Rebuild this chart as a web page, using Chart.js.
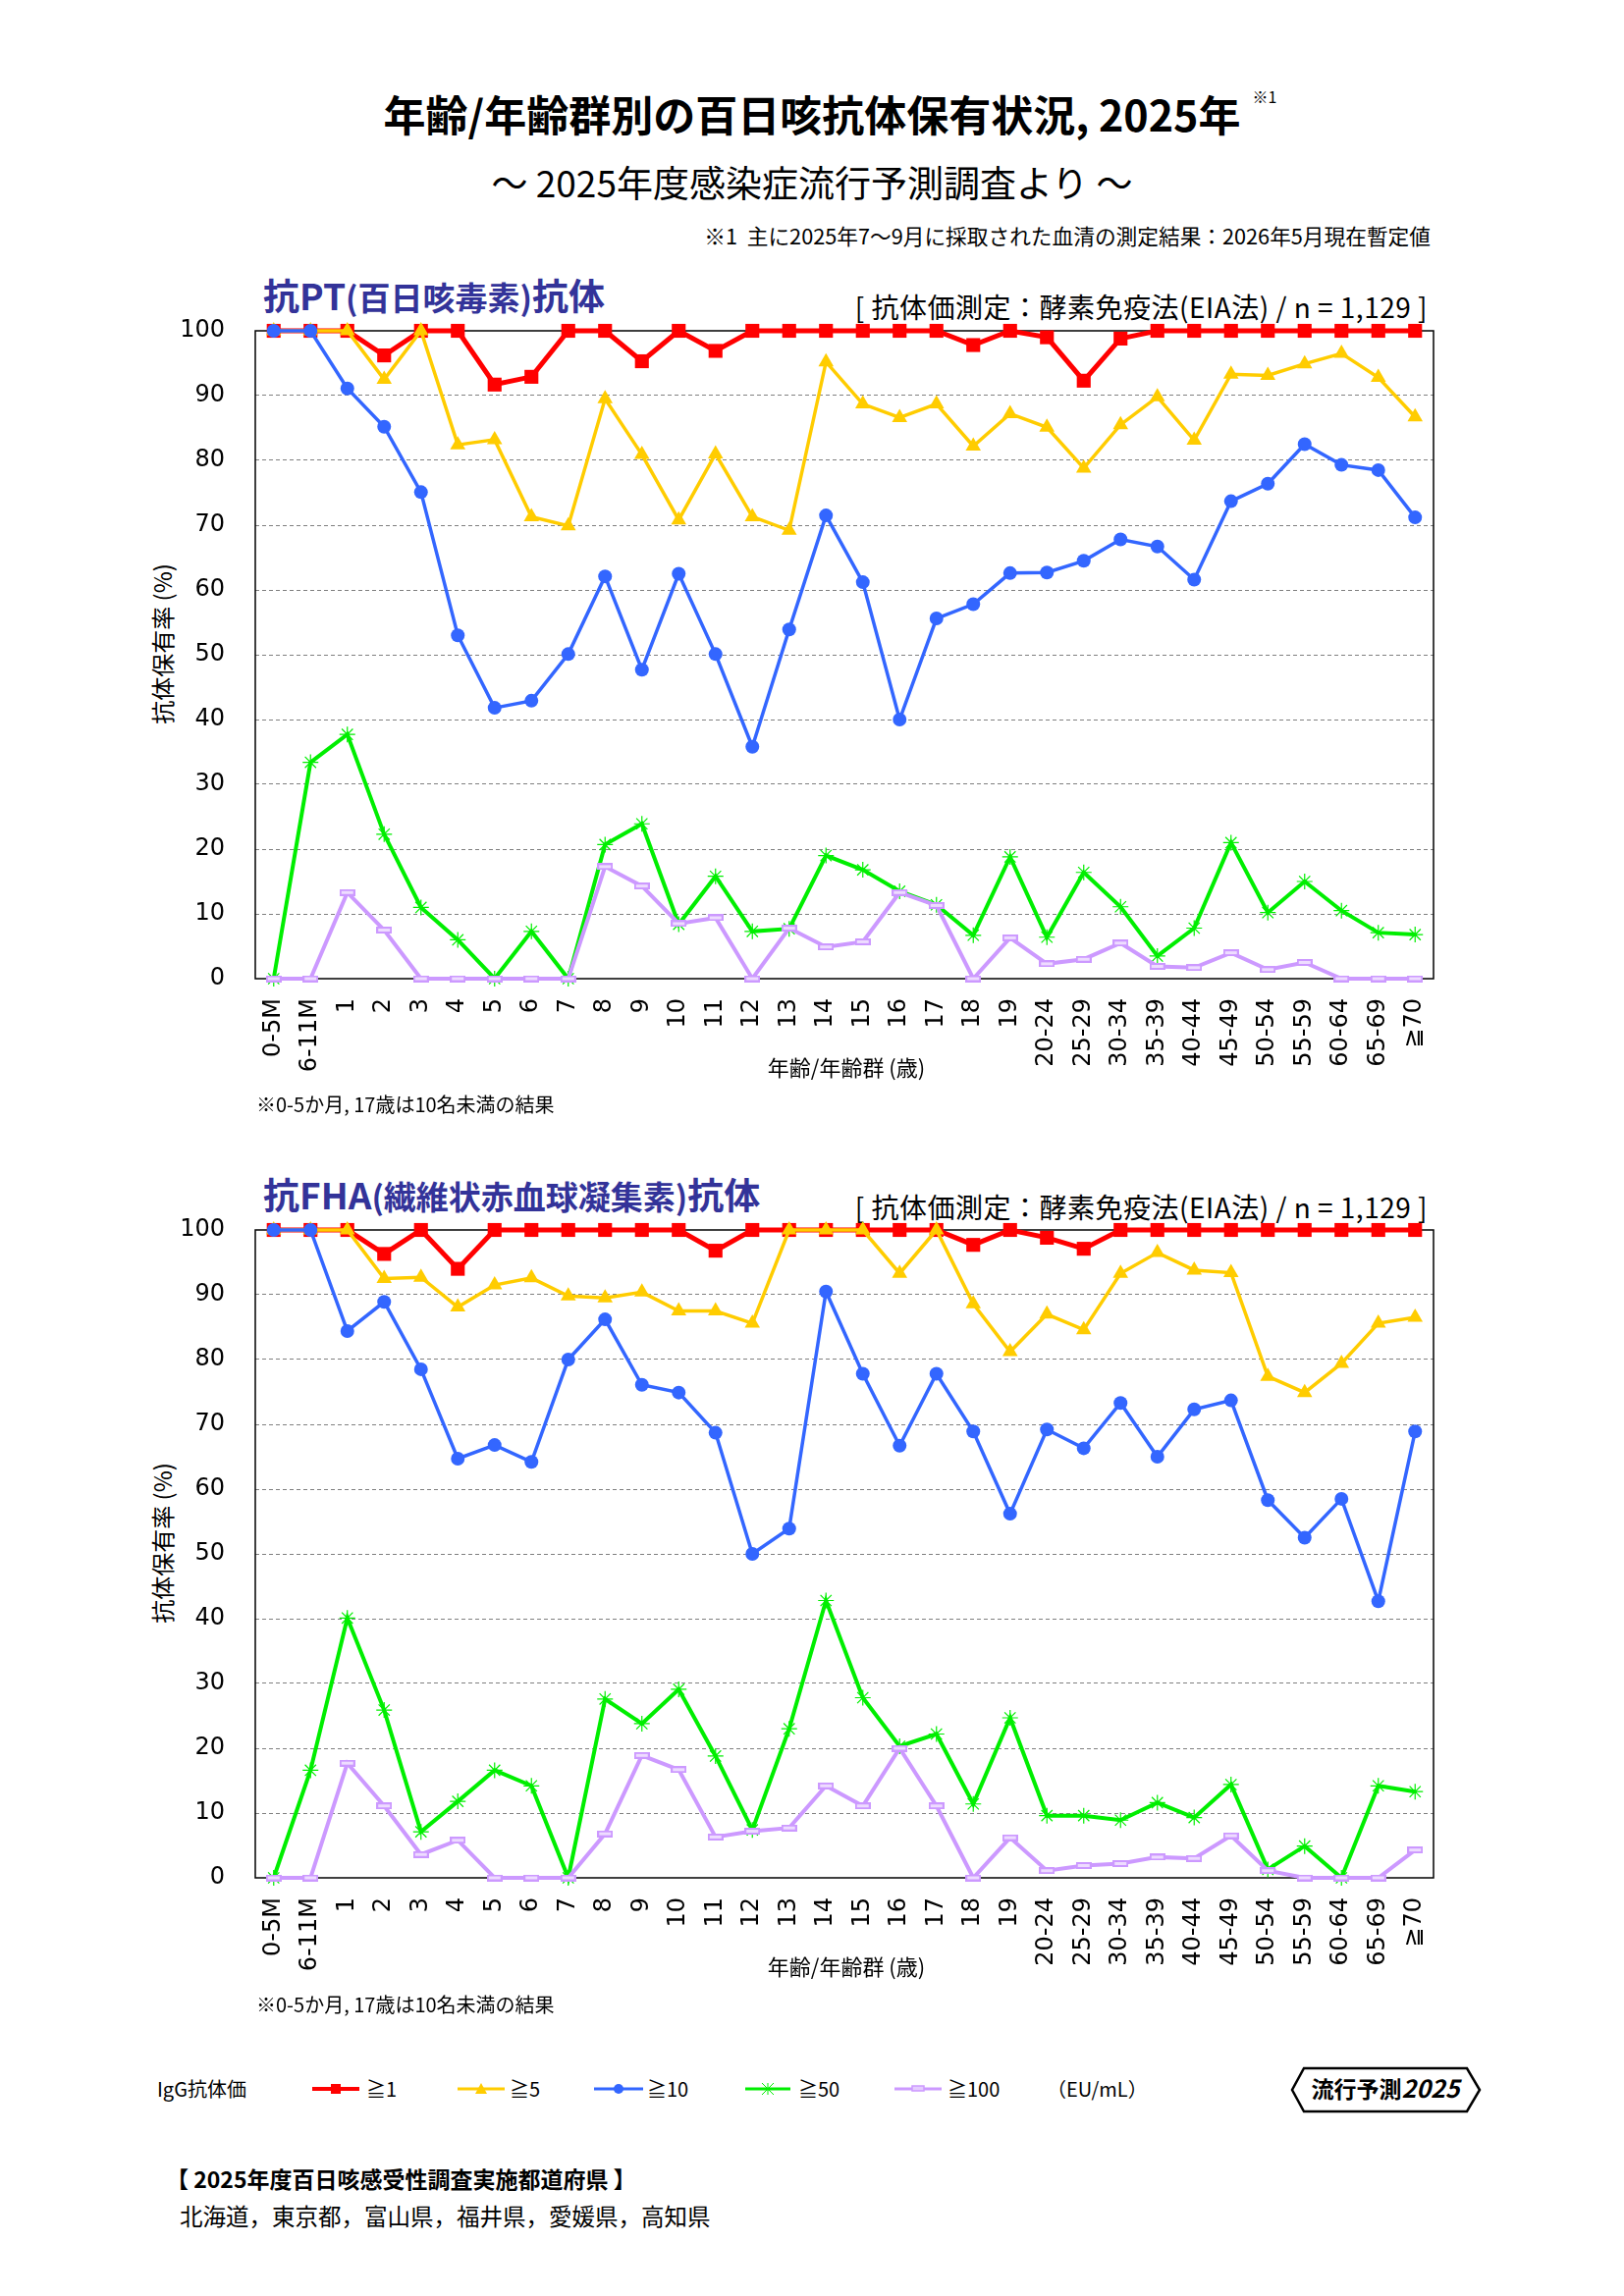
<!DOCTYPE html>
<html lang="ja">
<head>
<meta charset="utf-8">
<title>年齢/年齢群別の百日咳抗体保有状況, 2025年</title>
<script src="https://cdn.jsdelivr.net/npm/chart.js@4.4.1/dist/chart.umd.min.js"></script>
<style>
  body { margin: 0; background: #fff; }
  #page { position: relative; width: 1654px; height: 2339px; background: #fff; font-family: "Noto Sans CJK JP", sans-serif; color: #000; }
  .txt { position: absolute; white-space: nowrap; line-height: 1; transform: translateY(-50%); }
  .center { left: 0; width: 1654px; text-align: center; }
  .rot { position: absolute; white-space: nowrap; line-height: 1; transform: translate(-50%, -50%) rotate(-90deg); }
  .ctitle { font-weight: bold; color: #333399; font-size: 37px; }
  .ctitle small { font-size: 33px; }
  .bracket { font-size: 28px; letter-spacing: 0.5px; }
  canvas.chart { position: absolute; }
  .leg { position: absolute; top: 2116px; }
</style>
</head>
<body>
<div id="page">
  <div class="txt center" style="top:115px; font-size:43px; font-weight:bold;">
    <span style="position:relative;">年齢/年齢群別の百日咳抗体保有状況, 2025年<span style="position:absolute; left:100%; top:6px; margin-left:12px; font-size:16px; font-weight:normal;">※1</span></span>
  </div>
  <div class="txt center" style="top:185px; font-size:37px;">～ 2025年度感染症流行予測調査より ～</div>
  <div class="txt" style="top:240px; right:197px; font-size:21.7px;">※1&nbsp; 主に2025年7～9月に採取された血清の測定結果：2026年5月現在暫定値</div>

  <!-- 抗PT -->
  <div class="txt ctitle" style="top:300px; left:268px;">抗PT<small>(百日咳毒素)</small>抗体</div>
  <div class="txt bracket" style="top:312px; right:200px;">[ 抗体価測定：酵素免疫法(EIA法) / n = 1,129 ]</div>
  <div class="rot" style="left:165px; top:656px; font-size:24px;">抗体保有率 (%)</div>
  <canvas id="ptChart" class="chart" width="1360" height="790" style="left:130px; top:322px;"></canvas>
  <div class="txt" style="top:1086px; left:862px; font-size:22px; transform:translate(-50%,-50%);">年齢/年齢群 (歳)</div>
  <div class="txt" style="top:1125px; left:261px; font-size:20px;">※0-5か月, 17歳は10名未満の結果</div>

  <!-- 抗FHA -->
  <div class="txt ctitle" style="top:1216px; left:268px;">抗FHA<small>(繊維状赤血球凝集素)</small>抗体</div>
  <div class="txt bracket" style="top:1229px; right:200px;">[ 抗体価測定：酵素免疫法(EIA法) / n = 1,129 ]</div>
  <div class="rot" style="left:165px; top:1572px; font-size:24px;">抗体保有率 (%)</div>
  <canvas id="fhaChart" class="chart" width="1360" height="790" style="left:130px; top:1238px;"></canvas>
  <div class="txt" style="top:2002px; left:862px; font-size:22px; transform:translate(-50%,-50%);">年齢/年齢群 (歳)</div>
  <div class="txt" style="top:2042px; left:261px; font-size:20px;">※0-5か月, 17歳は10名未満の結果</div>

  <!-- legend -->
  <div class="txt" style="top:2128px; left:160px; font-size:20px;">IgG抗体価</div>
  <svg class="leg" style="left:316px;" width="52" height="24"><line x1="2" y1="12" x2="50" y2="12" stroke="#ff0000" stroke-width="4"/><rect x="21" y="7" width="10" height="10" fill="#ff0000"/></svg>
  <div class="txt" style="top:2128px; left:373px; font-size:20px;">≧1</div>
  <svg class="leg" style="left:464px;" width="52" height="24"><line x1="2" y1="12" x2="50" y2="12" stroke="#ffcc00" stroke-width="3"/><polygon points="26,6 32,17 20,17" fill="#ffcc00"/></svg>
  <div class="txt" style="top:2128px; left:519px; font-size:20px;">≧5</div>
  <svg class="leg" style="left:603px;" width="54" height="24"><line x1="2" y1="12" x2="52" y2="12" stroke="#3366ff" stroke-width="3"/><circle cx="27" cy="12" r="5" fill="#3366ff"/></svg>
  <div class="txt" style="top:2128px; left:659px; font-size:20px;">≧10</div>
  <svg class="leg" style="left:757px;" width="50" height="24"><line x1="2" y1="12" x2="48" y2="12" stroke="#00ee00" stroke-width="3"/><path d="M25 6 V18 M19 6 L31 18 M31 6 L19 18" stroke="#00ee00" stroke-width="1"/></svg>
  <div class="txt" style="top:2128px; left:813px; font-size:20px;">≧50</div>
  <svg class="leg" style="left:909px;" width="52" height="24"><line x1="2" y1="12" x2="50" y2="12" stroke="#cc99ff" stroke-width="3"/><rect x="20" y="9" width="12" height="5" fill="#e5ccff" stroke="#cc99ff" stroke-width="1.5"/></svg>
  <div class="txt" style="top:2128px; left:965px; font-size:20px;">≧100</div>
  <div class="txt" style="top:2128px; left:1066px; font-size:20px;">（EU/mL）</div>

  <svg style="position:absolute; left:1314px; top:2105px;" width="196" height="48">
    <polygon points="14,2 180,2 193,24 180,46 14,46 2,24" fill="#fff" stroke="#000" stroke-width="2.5"/>
    <text x="97" y="32" text-anchor="middle" font-family="Noto Sans CJK JP" font-weight="bold" font-size="23">流行予測<tspan font-style="italic" font-size="25">2025</tspan></text>
  </svg>

  <div class="txt" style="top:2219px; left:169px; font-size:23px; font-weight:bold;">【 2025年度百日咳感受性調査実施都道府県 】</div>
  <div class="txt" style="top:2258px; left:183px; font-size:23.5px;">北海道，東京都，富山県，福井県，愛媛県，高知県</div>
</div>

<script>
  const ageLabels = ["0-5M", "6-11M", "1", "2", "3", "4", "5", "6", "7", "8", "9", "10",
    "11", "12", "13", "14", "15", "16", "17", "18", "19", "20-24", "25-29", "30-34",
    "35-39", "40-44", "45-49", "50-54", "55-59", "60-64", "65-69", "≧70"];
  const yTicks = [0, 10, 20, 30, 40, 50, 60, 70, 80, 90, 100];

  // 抗PT抗体 (%)
  const ptGe1 = [100, 100, 100, 96.2, 100, 100, 91.7, 92.9, 100, 100, 95.3, 100, 96.9, 100, 100, 100,
    100, 100, 100, 97.8, 100, 99.0, 92.3, 98.8, 100, 100, 100, 100, 100, 100, 100, 100];
  const ptGe5 = [100, 100, 100, 92.5, 100, 82.4, 83.2, 71.3, 69.9, 89.5, 80.9, 70.8, 81.0, 71.3, 69.2, 95.2,
    88.7, 86.6, 88.7, 82.2, 87.2, 85.1, 78.8, 85.5, 89.8, 83.1, 93.3, 93.1, 94.9, 96.5, 92.8, 86.7];
  const ptGe10 = [100, 100, 91.1, 85.2, 75.1, 53.0, 41.8, 42.9, 50.1, 62.1, 47.7, 62.5, 50.1, 35.8, 53.9, 71.5,
    61.2, 40.0, 55.6, 57.8, 62.6, 62.7, 64.5, 67.8, 66.7, 61.6, 73.7, 76.4, 82.5, 79.3, 78.5, 71.2];
  const ptGe50 = [0, 33.4, 37.7, 22.3, 11.0, 6.0, 0, 7.3, 0, 20.7, 23.9, 8.4, 15.8, 7.3, 7.7, 19.0,
    16.8, 13.5, 11.4, 6.7, 18.8, 6.4, 16.4, 11.1, 3.5, 7.8, 21.0, 10.2, 15.0, 10.5, 7.1, 6.8];
  const ptGe100 = [0, 0, 13.3, 7.5, 0, 0, 0, 0, 0, 17.3, 14.3, 8.5, 9.4, 0, 7.8, 4.9,
    5.7, 13.3, 11.3, 0, 6.3, 2.3, 3.0, 5.5, 1.9, 1.7, 4.0, 1.4, 2.5, 0, 0, 0];

  // 抗FHA抗体 (%)
  const fhaGe1 = [100, 100, 100, 96.3, 100, 94.0, 100, 100, 100, 100, 100, 100, 96.8, 100, 100, 100,
    100, 100, 100, 97.7, 100, 98.8, 97.1, 100, 100, 100, 100, 100, 100, 100, 100, 100];
  const fhaGe5 = [100, 100, 100, 92.5, 92.7, 88.1, 91.5, 92.6, 89.8, 89.5, 90.4, 87.5, 87.5, 85.6, 100, 100,
    100, 93.3, 100, 88.6, 81.2, 87.0, 84.6, 93.3, 96.5, 93.8, 93.4, 77.4, 74.9, 79.4, 85.6, 86.5];
  const fhaGe10 = [100, 100, 84.4, 88.9, 78.5, 64.7, 66.8, 64.2, 80.0, 86.2, 76.1, 74.9, 68.7, 50.0, 53.9, 90.5,
    77.8, 66.7, 77.8, 68.9, 56.2, 69.2, 66.3, 73.3, 65.0, 72.3, 73.7, 58.3, 52.5, 58.5, 42.7, 68.9];
  const fhaGe50 = [0, 16.6, 40.1, 25.9, 7.1, 11.8, 16.6, 14.2, 0, 27.6, 23.8, 29.1, 18.8, 7.4, 23.0, 42.8,
    27.8, 20.3, 22.2, 11.4, 24.7, 9.6, 9.6, 8.9, 11.6, 9.3, 14.4, 1.3, 4.9, 0, 14.2, 13.3];
  const fhaGe100 = [0, 0, 17.7, 11.1, 3.6, 5.8, 0, 0, 0, 6.8, 18.9, 16.7, 6.3, 7.2, 7.7, 14.2,
    11.1, 20.0, 11.1, 0, 6.2, 1.1, 1.9, 2.2, 3.2, 3.0, 6.5, 1.1, 0, 0, 0, 4.3];

  const RED = "#ff0000";
  const YELLOW = "#ffcc00";
  const BLUE = "#3366ff";
  const GREEN = "#00ee00";
  const PURPLE = "#cc99ff";

  // small open bar used as the ≧100 marker
  const purpleMark = document.createElement("canvas");
  purpleMark.width = 16;
  purpleMark.height = 7;
  const pm = purpleMark.getContext("2d");
  pm.fillStyle = PURPLE;
  pm.fillRect(0, 0, 16, 7);
  pm.fillStyle = "#eedcff";
  pm.fillRect(2, 2, 12, 3);

  const makeSets = (ge1, ge5, ge10, ge50, ge100) => [
    { label: "≧1", data: ge1, borderColor: RED, backgroundColor: RED, borderWidth: 5,
      pointStyle: "rect", pointRadius: 10, pointBorderWidth: 0, order: 5 },
    { label: "≧5", data: ge5, borderColor: YELLOW, backgroundColor: YELLOW, borderWidth: 3.5,
      pointStyle: "triangle", pointRadius: 9, pointBorderWidth: 0, order: 4 },
    { label: "≧10", data: ge10, borderColor: BLUE, backgroundColor: BLUE, borderWidth: 3.5,
      pointStyle: "circle", pointRadius: 7, pointBorderWidth: 0, order: 3 },
    { label: "≧50", data: ge50, borderColor: GREEN, backgroundColor: GREEN, borderWidth: 4,
      pointStyle: "star", pointRadius: 8, pointBorderWidth: 1.2, order: 2 },
    { label: "≧100", data: ge100, borderColor: PURPLE, backgroundColor: PURPLE, borderWidth: 4,
      pointStyle: purpleMark, pointRadius: 8, order: 1 },
  ];

  // black box round the plot area
  const frame = {
    id: "frame",
    beforeDatasetsDraw(chart) {
      const { ctx, chartArea: a } = chart;
      ctx.save();
      ctx.strokeStyle = "#000";
      ctx.lineWidth = 1.5;
      ctx.strokeRect(a.left, a.top, a.right - a.left, a.bottom - a.top);
      ctx.restore();
    },
  };

  const tickFont = { family: "'DejaVu Sans', 'Noto Sans CJK JP'", size: 24 };

  const makeChart = (id, sets) => new Chart(document.getElementById(id), {
    type: "line",
    data: { labels: ageLabels, datasets: sets },
    plugins: [frame],
    options: {
      responsive: false,
      animation: false,
      layout: { padding: { top: 15, right: 30, left: 0, bottom: 0 } },
      datasets: { line: { tension: 0, clip: false } },
      plugins: { legend: { display: false }, tooltip: { enabled: false } },
      scales: {
        x: {
          offset: true,
          grid: { display: false, drawTicks: false },
          border: { display: false },
          ticks: { autoSkip: false, minRotation: 90, maxRotation: 90, padding: 20, color: "#000", font: tickFont },
          afterFit: (s) => { s.height = 115; s.paddingLeft = 0; s.paddingRight = 0; },
        },
        y: {
          min: 0,
          max: 100,
          afterBuildTicks: (s) => { s.ticks = yTicks.map((v) => ({ value: v })); },
          ticks: { padding: 31, color: "#000", font: tickFont },
          grid: {
            drawTicks: false,
            lineWidth: 1,
            color: (c) => (c.tick && c.tick.value > 0 && c.tick.value < 100 ? "#808080" : "rgba(0,0,0,0)"),
          },
          border: { display: false, dash: [4, 3] },
          afterFit: (s) => { s.width = 130; s.paddingTop = 0; s.paddingBottom = 0; },
        },
      },
    },
  });

  makeChart("ptChart", makeSets(ptGe1, ptGe5, ptGe10, ptGe50, ptGe100));
  makeChart("fhaChart", makeSets(fhaGe1, fhaGe5, fhaGe10, fhaGe50, fhaGe100));
</script>
</body>
</html>
